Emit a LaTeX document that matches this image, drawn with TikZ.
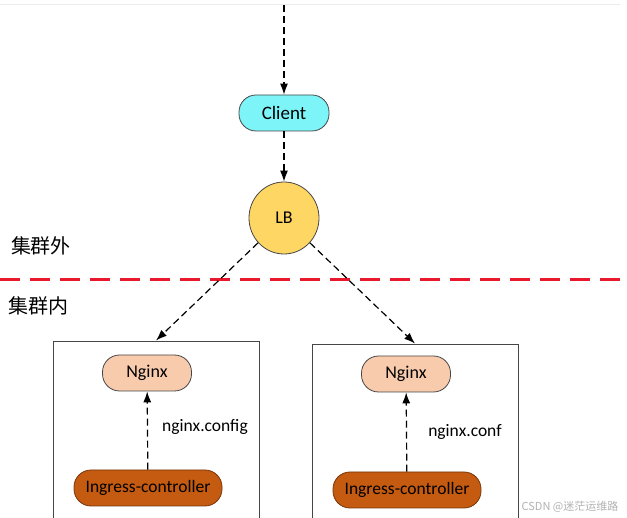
\documentclass[tikz,border=0pt]{standalone}
\usepackage{fontspec}
\setmainfont{Carlito}
\newfontfamily\cjk{Noto Sans CJK SC}
\usetikzlibrary{shapes.geometric,arrows.meta}
\definecolor{clientcyan}{RGB}{125,245,248}
\definecolor{lbyellow}{RGB}{253,214,99}
\definecolor{nginxpeach}{RGB}{248,203,173}
\definecolor{ingressbrown}{RGB}{197,90,17}
\definecolor{edgegray}{RGB}{70,70,70}
\definecolor{zonered}{RGB}{232,25,44}
\tikzset{
  pill/.style={rectangle, rounded corners=17pt, draw=edgegray, line width=0.8pt, minimum height=36pt, font=\fontsize{17.5}{20}\selectfont},
  podbox/.style={draw=edgegray, line width=0.9pt, minimum width=206pt, minimum height=200pt},
  flow/.style={dash pattern=on 7pt off 4pt, line width=1.2pt, -{Latex[length=11pt,width=8pt]}},
}
\begin{document}
\begin{tikzpicture}[x=1pt,y=-1pt]
  \useasboundingbox (0,0) rectangle (627,518);
  \fill[white] (0,0) rectangle (627,518);
  \draw[gray!15, line width=0.8pt] (0,4) -- (620,4);
  % outside the cluster
  \coordinate (src) at (284,5);
  \node[pill, fill=clientcyan, minimum width=90pt, font=\fontsize{19}{22}\selectfont] (client) at (284,113) {Client};
  \node[ellipse, draw=edgegray, line width=0.8pt, fill=lbyellow, minimum width=70pt, minimum height=72pt, font=\fontsize{18}{20}\selectfont] (lb) at (284,218) {LB};
  \node[font=\cjk\fontsize{20}{22}\selectfont] (outside) at (41,246) {集群外};
  \draw[zonered, line width=3pt, dash pattern=on 20pt off 10pt] (0,280) -- (627,280);
  \node[font=\cjk\fontsize{20}{22}\selectfont] (inside) at (39,306) {集群内};
  % pods
  \node[podbox] (podL) at (156,441) {};
  \node[podbox] (podR) at (415,444) {};
  \node[pill, fill=nginxpeach, minimum width=89pt, font=\fontsize{18}{20}\selectfont] (nginxL) at (147,373) {Nginx};
  \node[pill, fill=ingressbrown, draw=ingressbrown!60!black, minimum width=148pt] (ingL) at (148,488) {Ingress-controller};
  \node[pill, fill=nginxpeach, minimum width=89pt, font=\fontsize{18}{20}\selectfont] (nginxR) at (406,374) {Nginx};
  \node[pill, fill=ingressbrown, draw=ingressbrown!60!black, minimum width=148pt] (ingR) at (407,490) {Ingress-controller};
  \node[font=\fontsize{17.5}{20}\selectfont] (confL) at (205,427) {nginx.config};
  \node[font=\fontsize{17.5}{20}\selectfont] (confR) at (465,432) {nginx.conf};
  \node[text=gray!60, font=\cjk\fontsize{11}{12}\selectfont] (mark) at (570,507) {CSDN @迷茫运维路};
  % connectors
  \draw[flow] (src) -- (client);
  \draw[flow] (client) -- (lb);
  \draw[flow] (lb) -- (podL.north);
  \draw[flow] (lb) -- (podR.north);
  \draw[flow] (ingL) -- (nginxL);
  \draw[flow] (ingR) -- (nginxR);
\end{tikzpicture}
\end{document}
